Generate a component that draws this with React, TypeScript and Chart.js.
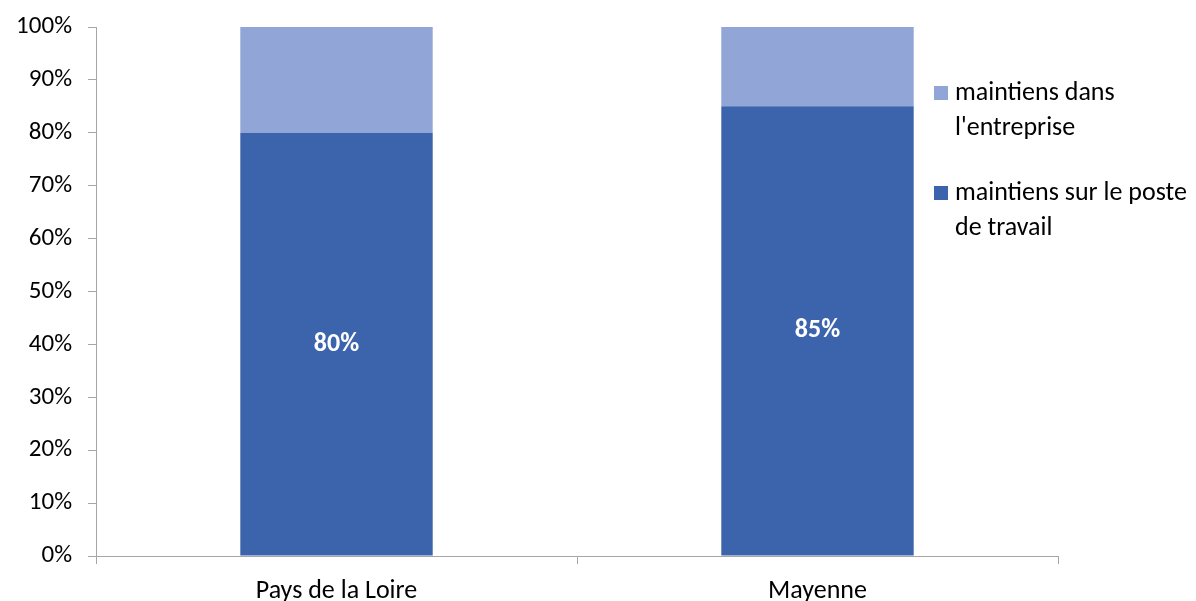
import React, { useEffect, useRef } from "react";
import { Chart, registerables } from "chart.js";

Chart.register(...registerables);

const categories = ["Pays de la Loire", "Mayenne"];
const seriesPoste = [80, 85];
const seriesEntreprise = [20, 15];
const seriesNames = ["maintiens sur le poste de travail", "maintiens dans l'entreprise"];
const legendLines = [
  ["maintiens dans", "l'entreprise"],
  ["maintiens sur le poste", "de travail"],
];
const valueLabels = ["80%", "85%"];

const FONT = "Carlito, 'Liberation Sans', Arial, sans-serif";
const DARK = "#3C64AC";
const LIGHT = "#91A5D6";

const labelPlugin = {
  id: "barLabels",
  afterDatasetsDraw(chart: any) {
    const ctx = chart.ctx;
    const meta = chart.getDatasetMeta(0);
    ctx.save();
    ctx.fillStyle = "#ffffff";
    ctx.font = `bold 26px ${FONT}`;
    ctx.textAlign = "center";
    ctx.textBaseline = "middle";
    meta.data.forEach((bar: any, i: number) => {
      const y = (bar.y + bar.base) / 2;
      ctx.fillText(valueLabels[i], bar.x, y);
    });
    ctx.restore();
  },
};

const legendPlugin = {
  id: "sideLegend",
  afterDraw(chart: any) {
    const ctx = chart.ctx;
    const colors = [LIGHT, DARK];
    const startY = [93, 193];
    ctx.save();
    ctx.font = `26px ${FONT}`;
    ctx.textBaseline = "middle";
    ctx.textAlign = "left";
    legendLines.forEach((lines, i) => {
      ctx.fillStyle = colors[i];
      ctx.fillRect(934, startY[i] - 7, 14, 14);
      ctx.fillStyle = "#000000";
      lines.forEach((line, j) => {
        ctx.fillText(line, 955, startY[i] + j * 35);
      });
    });
    ctx.restore();
  },
};

export default function App() {
  const ref = useRef<HTMLCanvasElement>(null);
  useEffect(() => {
    if (!ref.current) return;
    const chart = new Chart(ref.current, {
      type: "bar",
      data: {
        labels: categories,
        datasets: [
          {
            label: seriesNames[0],
            data: seriesPoste,
            backgroundColor: DARK,
            barPercentage: 0.4,
            categoryPercentage: 1,
          },
          {
            label: seriesNames[1],
            data: seriesEntreprise,
            backgroundColor: LIGHT,
            barPercentage: 0.4,
            categoryPercentage: 1,
          },
        ],
      },
      options: {
        animation: false,
        responsive: false,
        maintainAspectRatio: false,
        layout: { padding: { top: 27, right: 138, left: 0, bottom: 0 } },
        plugins: { legend: { display: false }, tooltip: { enabled: false } },
        scales: {
          x: {
            stacked: true,
            offset: true,
            grid: {
              offset: true,
              drawOnChartArea: false,
              drawTicks: true,
              tickLength: 8,
              color: "#A6A6A6",
            },
            border: { color: "#A6A6A6", width: 1 },
            ticks: { color: "#000", font: { size: 26, family: FONT }, padding: 12 },
            afterFit(scale: any) {
              scale.height = 45;
              scale.paddingLeft = 0;
              scale.paddingRight = 0;
            },
          },
          y: {
            stacked: true,
            min: 0,
            max: 100,
            ticks: {
              stepSize: 10,
              color: "#000",
              font: { size: 25, family: FONT },
              padding: 16,
              callback: (v: any) => `${v}%`,
            },
            grid: {
              drawOnChartArea: false,
              drawTicks: true,
              tickLength: 8,
              color: "#A6A6A6",
            },
            border: { color: "#A6A6A6", width: 1 },
            afterFit(scale: any) {
              scale.width = 96;
              scale.paddingTop = 0;
              scale.paddingBottom = 0;
            },
          },
        },
      },
      plugins: [labelPlugin, legendPlugin],
    });
    return () => chart.destroy();
  }, []);
  return (
    <div style={{ position: "fixed", left: 0, top: 0, width: 1196, height: 601, background: "#fff" }}>
      <canvas ref={ref} width={1196} height={601} style={{ display: "block" }} />
    </div>
  );
}
